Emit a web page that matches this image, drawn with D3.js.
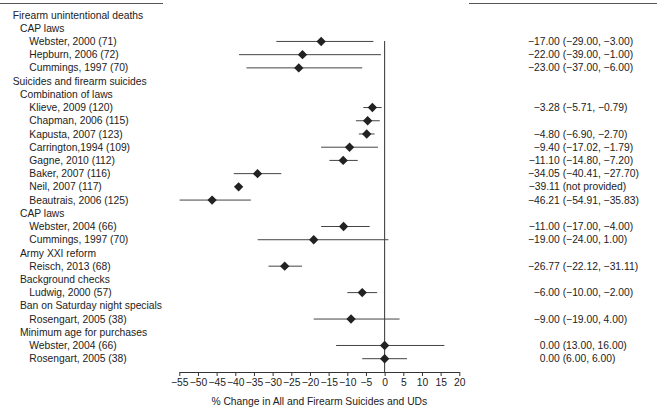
<!DOCTYPE html>
<html>
<head>
<meta charset="utf-8">
<script src="https://cdn.jsdelivr.net/npm/d3@7"></script>
<style>
  html, body { margin: 0; padding: 0; background: #fff; }
  svg { display: block; }
</style>
</head>
<body>
<div id="chart"></div>
<script>
// Row labels and indent level (0 = outcome, 1 = law type, 2 = study)
const labels = [
  "Firearm unintentional deaths", "CAP laws",
  "Webster, 2000 (71)", "Hepburn, 2006 (72)", "Cummings, 1997 (70)",
  "Suicides and firearm suicides", "Combination of laws",
  "Klieve, 2009 (120)", "Chapman, 2006 (115)", "Kapusta, 2007 (123)",
  "Carrington,1994 (109)", "Gagne, 2010 (112)", "Baker, 2007 (116)",
  "Neil, 2007 (117)", "Beautrais, 2006 (125)",
  "CAP laws", "Webster, 2004 (66)", "Cummings, 1997 (70)",
  "Army XXI reform", "Reisch, 2013 (68)",
  "Background checks", "Ludwig, 2000 (57)",
  "Ban on Saturday night specials", "Rosengart, 2005 (38)",
  "Minimum age for purchases", "Webster, 2004 (66)", "Rosengart, 2005 (38)"
];
const levels = [0, 1, 2, 2, 2, 0, 1, 2, 2, 2, 2, 2, 2, 2, 2, 1, 2, 2, 1, 2, 1, 2, 1, 2, 1, 2, 2];

// Point estimates and drawn interval ends (null = header row / not drawn)
const estimates = [null, null, -17, -22, -23, null, null, -3.28, -4.55, -4.8, -9.4, -11.1, -34.05, -39.11, -46.21,
  null, -11, -19, null, -26.77, null, -6, null, -9, null, 0, 0];
const lowers = [null, null, -29, -39, -37, null, null, -5.71, -7.7, -6.9, -17.02, -14.8, -40.41, null, -54.91,
  null, -17, -34, null, -31.11, null, -10, null, -19, null, -13, -6];
const uppers = [null, null, -3, -1, -6, null, null, -0.79, -1.3, -2.7, -1.79, -7.2, -27.7, null, -35.83,
  null, -4, 1, null, -22.12, null, -2, null, 4, null, 16, 6];

// Interval text as printed in the right column
const ciTexts = [null, null, "(−29.00, −3.00)", "(−39.00, −1.00)", "(−37.00, −6.00)", null, null,
  "(−5.71, −0.79)", null, "(−6.90, −2.70)", "(−17.02, −1.79)", "(−14.80, −7.20)", "(−40.41, −27.70)",
  "(not provided)", "(−54.91, −35.83)", null, "(−17.00, −4.00)", "(−24.00, 1.00)", null,
  "(−22.12, −31.11)", null, "(−10.00, −2.00)", null, "(−19.00, 4.00)", null, "(13.00, 16.00)", "(6.00, 6.00)"];

const xTicks = d3.range(-55, 21, 5);
const axisTitle = "% Change in All and Firearm Suicides and UDs";

const W = 657, H = 414;
const font = "'Liberation Sans', Arial, Helvetica, sans-serif";
const fs = "10.3px";
const ink = "#222";

const svg = d3.select("#chart").append("svg").attr("width", W).attr("height", H);

const x = d3.scaleLinear().domain([-55, 20]).range([179.3, 459.3]);
const y = d3.scaleLinear().domain([0, labels.length - 1]).range([15, 358.7]);
const indent = [12.7, 20, 29.3];
const axisY = 372;

// header underlines (header text is cropped off)
svg.append("line").attr("x1", 0).attr("x2", 163).attr("y1", 3.5).attr("y2", 3.5)
  .attr("stroke", "#555").attr("stroke-width", 1);
svg.append("line").attr("x1", 469).attr("x2", 657).attr("y1", 3.5).attr("y2", 3.5)
  .attr("stroke", "#555").attr("stroke-width", 1);

// row labels
svg.append("g").selectAll("text").data(labels).join("text")
  .attr("x", (d, i) => indent[levels[i]])
  .attr("y", (d, i) => y(i))
  .attr("dy", "0.35em")
  .style("font-family", font).style("font-size", fs).style("fill", ink)
  .text(d => d);

// no-effect line
svg.append("line")
  .attr("x1", x(0)).attr("x2", x(0))
  .attr("y1", 41).attr("y2", axisY)
  .attr("stroke", "#333").attr("stroke-width", 1);

const idx = d3.range(labels.length);

// whiskers
svg.append("g").selectAll("line")
  .data(idx.filter(i => lowers[i] !== null))
  .join("line")
  .attr("x1", i => x(lowers[i])).attr("x2", i => x(uppers[i]))
  .attr("y1", i => y(i)).attr("y2", i => y(i))
  .attr("stroke", "#444").attr("stroke-width", 1);

// diamonds
const diamond = d3.symbol().type(d3.symbolSquare).size(44);
svg.append("g").selectAll("path")
  .data(idx.filter(i => estimates[i] !== null))
  .join("path")
  .attr("d", diamond)
  .attr("transform", i => `translate(${x(estimates[i])},${y(i)}) rotate(45)`)
  .attr("fill", "#222");

// right column: estimate (aligned on its end) and interval
const fmt = d3.format(".2f");
const estX = 559.8;
const rightRows = idx.filter(i => ciTexts[i] !== null);
svg.append("g").selectAll("text").data(rightRows).join("text")
  .attr("x", estX).attr("y", i => y(i)).attr("dy", "0.35em")
  .attr("text-anchor", "end")
  .style("font-family", font).style("font-size", fs).style("fill", ink)
  .text(i => fmt(estimates[i]));
svg.append("g").selectAll("text").data(rightRows).join("text")
  .attr("x", estX + 2.9).attr("y", i => y(i)).attr("dy", "0.35em")
  .style("font-family", font).style("font-size", fs).style("fill", ink)
  .text(i => ciTexts[i]);

// x axis
const axis = svg.append("g")
  .attr("transform", `translate(0,${axisY})`)
  .call(d3.axisBottom(x).tickValues(xTicks).tickSize(4).tickSizeOuter(0).tickPadding(3));
axis.select(".domain").attr("stroke", "#333");
axis.selectAll(".tick line").attr("stroke", "#333");
axis.selectAll(".tick text")
  .style("font-family", font).style("font-size", fs).style("fill", ink);

svg.append("text")
  .attr("x", (x(-55) + x(20)) / 2).attr("y", 401).attr("dy", "0.35em")
  .attr("text-anchor", "middle")
  .style("font-family", font).style("font-size", fs).style("fill", ink)
  .text(axisTitle);
</script>
</body>
</html>
